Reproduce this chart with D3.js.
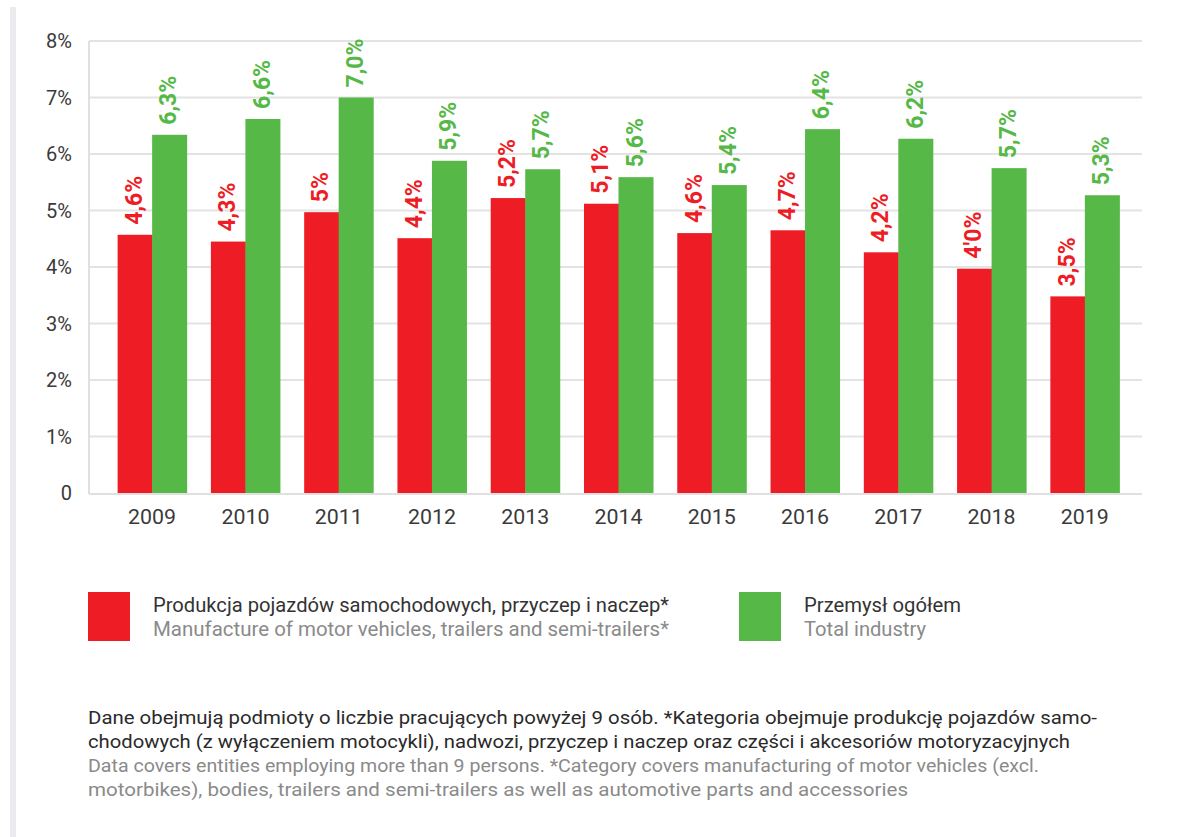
<!DOCTYPE html>
<html>
<head>
<meta charset="utf-8">
<title>Produkcja pojazdów - wykres</title>
<style>
  body { margin: 0; background: #fff; }
  svg { display: block; font-family: Roboto, "Noto Sans", sans-serif; }
</style>
</head>
<body>
<div id="chart"></div>
<script src="https://cdnjs.cloudflare.com/ajax/libs/d3/7.8.5/d3.min.js"></script>
<script>
// data
var years = ["2009", "2010", "2011", "2012", "2013", "2014", "2015", "2016", "2017", "2018", "2019"];
var motorValues = [4.57, 4.45, 4.97, 4.51, 5.22, 5.12, 4.60, 4.65, 4.26, 3.97, 3.48];
var motorLabels = ["4,6%", "4,3%", "5%", "4,4%", "5,2%", "5,1%", "4,6%", "4,7%", "4,2%", "4'0%", "3,5%"];
var totalValues = [6.34, 6.62, 7.00, 5.88, 5.73, 5.59, 5.45, 6.44, 6.27, 5.75, 5.27];
var totalLabels = ["6,3%", "6,6%", "7,0%", "5,9%", "5,7%", "5,6%", "5,4%", "6,4%", "6,2%", "5,7%", "5,3%"];
var yTicks = [0, 1, 2, 3, 4, 5, 6, 7, 8];

var legendItems = [
  { pl: "Produkcja pojazdów samochodowych, przyczep i naczep*", en: "Manufacture of motor vehicles, trailers and semi-trailers*", color: "#ee1c25" },
  { pl: "Przemysł ogółem", en: "Total industry", color: "#56b847" }
];
var notePl = [
  "Dane obejmują podmioty o liczbie pracujących powyżej 9 osób. *Kategoria obejmuje produkcję pojazdów samo-",
  "chodowych (z wyłączeniem motocykli), nadwozi, przyczep i naczep oraz części i akcesoriów motoryzacyjnych"
];
var noteEn = [
  "Data covers entities employing more than 9 persons. *Category covers manufacturing of motor vehicles (excl.",
  "motorbikes), bodies, trailers and semi-trailers as well as automotive parts and accessories"
];

var W = 1179, H = 837;
var red = "#ee1c25", green = "#56b847";

var svg = d3.select("#chart").append("svg")
    .attr("width", W)
    .attr("height", H);

// grey strip on the left edge
svg.append("rect")
    .attr("x", 10).attr("y", 7)
    .attr("width", 6).attr("height", H - 7)
    .attr("fill", "#ebebef");

var plotLeft = 89, plotRight = 1142, plotTop = 41, plotBottom = 493;

var y = d3.scaleLinear().domain([0, 8]).range([plotBottom, plotTop]);
var x = d3.scaleBand().domain(years).range([105.5, 1131.5]).paddingInner(0.26).paddingOuter(0.13);
var xs = d3.scaleBand().domain(["m", "t"]).range([0, x.bandwidth()]);

// gridlines
svg.append("g").selectAll("line")
    .data(yTicks.filter(function(d){ return d > 0; }))
    .enter().append("line")
    .attr("x1", plotLeft).attr("x2", plotRight)
    .attr("y1", function(d){ return y(d); })
    .attr("y2", function(d){ return y(d); })
    .attr("stroke", "#e3e3e3")
    .attr("stroke-width", 2);

// axis lines
svg.append("line")
    .attr("x1", plotLeft).attr("x2", plotLeft)
    .attr("y1", plotTop).attr("y2", plotBottom + 1)
    .attr("stroke", "#e0e0e0").attr("stroke-width", 2);
svg.append("line")
    .attr("x1", plotLeft).attr("x2", plotRight)
    .attr("y1", plotBottom + 1).attr("y2", plotBottom + 1)
    .attr("stroke", "#e0e0e0").attr("stroke-width", 2);

// y tick labels
svg.append("g").selectAll("text")
    .data(yTicks)
    .enter().append("text")
    .attr("x", 72)
    .attr("y", function(d){ return y(d); })
    .attr("dy", "0.35em")
    .attr("text-anchor", "end")
    .attr("fill", "#3a3a3a")
    .style("font-size", "20px")
    .text(function(d){ return d === 0 ? "0" : d + "%"; });

// x tick labels
svg.append("g").selectAll("text")
    .data(years)
    .enter().append("text")
    .attr("x", function(d){ return x(d) + x.bandwidth() / 2; })
    .attr("y", 524)
    .attr("text-anchor", "middle")
    .attr("fill", "#3a3a3a")
    .style("font-size", "20px")
    .attr("textLength", 48)
    .attr("lengthAdjust", "spacingAndGlyphs")
    .text(function(d){ return d; });

var series = [
  { key: "m", values: motorValues, labels: motorLabels, color: red },
  { key: "t", values: totalValues, labels: totalLabels, color: green }
];

series.forEach(function(s){
  var g = svg.append("g");
  g.selectAll("rect")
      .data(years)
      .enter().append("rect")
      .attr("x", function(d){ return x(d) + xs(s.key); })
      .attr("y", function(d, i){ return y(s.values[i]); })
      .attr("width", xs.bandwidth() + 0.5)
      .attr("height", function(d, i){ return plotBottom - y(s.values[i]); })
      .attr("fill", s.color);

  g.selectAll("text")
      .data(years)
      .enter().append("text")
      .attr("transform", function(d, i){
        var cx = x(d) + xs(s.key) + xs.bandwidth() / 2;
        return "translate(" + (cx + 7) + "," + (y(s.values[i]) - 10) + ") rotate(-90)";
      })
      .attr("fill", s.color)
      .style("font-size", "23px")
      .style("font-weight", "bold")
      .text(function(d, i){ return s.labels[i]; });
});

// legend
var legendX = [88, 739];
var legendWidths = [[516, 516], [157, 122]];
legendItems.forEach(function(item, i){
  var g = svg.append("g").attr("transform", "translate(" + legendX[i] + ",592)");
  g.append("rect").attr("width", 42).attr("height", 49).attr("fill", item.color);
  g.append("text").attr("x", 65).attr("y", 20)
      .attr("fill", "#333").style("font-size", "19.5px")
      .attr("textLength", legendWidths[i][0]).attr("lengthAdjust", "spacingAndGlyphs")
      .text(item.pl);
  g.append("text").attr("x", 65).attr("y", 44)
      .attr("fill", "#8a8a8a").style("font-size", "19.5px")
      .attr("textLength", legendWidths[i][1]).attr("lengthAdjust", "spacingAndGlyphs")
      .text(item.en);
});

// footnote
var noteWidths = [1009, 982, 951, 820];
notePl.concat(noteEn).forEach(function(line, i){
  svg.append("text")
      .attr("x", 88)
      .attr("y", 724 + i * 24)
      .attr("fill", i < 2 ? "#2a2a2a" : "#8a8a8a")
      .style("font-size", "18.5px")
      .attr("textLength", noteWidths[i])
      .attr("lengthAdjust", "spacingAndGlyphs")
      .text(line);
});
</script>
</body>
</html>
